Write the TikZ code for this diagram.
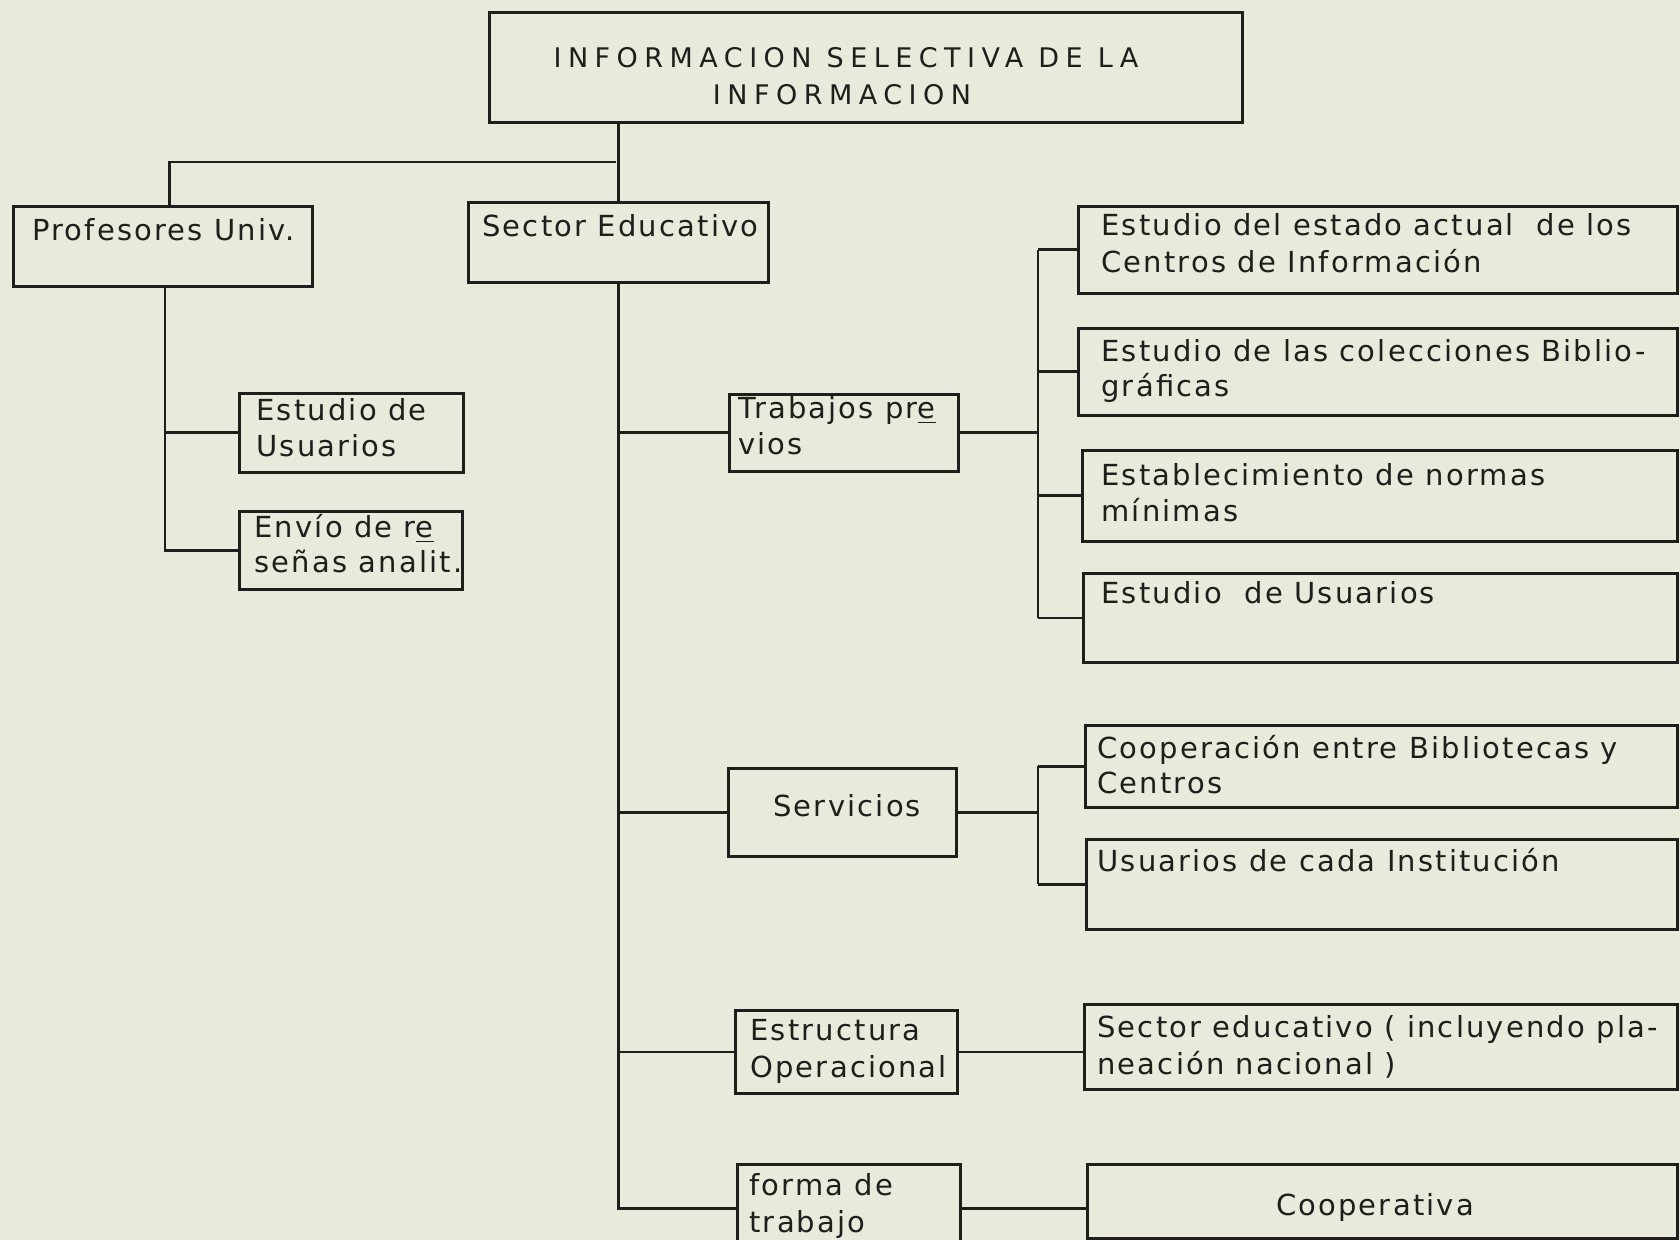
\documentclass[tikz,border=0pt]{standalone}
\usepackage{fontspec}
\setmainfont{DejaVu Sans}[LetterSpace=7.5]
\newfontfamily\capsfont{DejaVu Sans}[LetterSpace=24]
\definecolor{paper}{RGB}{233,234,219}
\definecolor{ink}{RGB}{30,30,28}
\newcommand\bx[5]{\node[box, minimum width={(#4-#2)*0.5pt}, minimum height={(#5-#3)*0.5pt}] (#1) at (#2,#3) {};}
\begin{document}
\begin{tikzpicture}[x=0.5pt,y=-0.5pt,
  box/.style={draw=ink, line width=1.3pt, inner sep=0pt, anchor=north west},
  txt/.style={text=ink, inner sep=0pt, anchor=base west, font=\fontsize{14.5pt}{18pt}\selectfont},
  captxt/.style={text=ink, inner sep=0pt, anchor=base, font=\capsfont\fontsize{13.5pt}{18pt}\selectfont},
  conn/.style={draw=ink, line width=1.3pt}]
\fill[paper] (0,0) rectangle (1680,1240);
\useasboundingbox (0,0) rectangle (1680,1240);
\clip (0,0) rectangle (1680,1240);
% boxes
\bx{top}{488}{11}{1241}{121}
\bx{prof}{12}{205}{311}{285}
\bx{sec}{467}{201}{767}{281}
\bx{est}{238}{392}{462}{471}
\bx{env}{238}{510}{461}{588}
\bx{trab}{728}{393}{957}{470}
\bx{serv}{727}{767}{955}{855}
\bx{estr}{734}{1009}{956}{1092}
\bx{forma}{736}{1163}{959}{1251}
\bx{ra}{1077}{205}{1676}{292}
\bx{rb}{1077}{327}{1676}{414}
\bx{rc}{1081}{449}{1676}{540}
\bx{rd}{1082}{572}{1676}{661}
\bx{coop}{1084}{724}{1676}{806}
\bx{usu}{1085}{838}{1676}{928}
\bx{sed}{1083}{1003}{1676}{1088}
\bx{cva}{1086}{1163}{1676}{1237}
% texts
\node[captxt] (t1) at (846,68) {INFORMACION SELECTIVA DE LA};
\node[captxt] (t2) at (842,105) {INFORMACION};
\node[txt] (tprof) at (32,241) {Profesores Univ.};
\node[txt] (tsec) at (482,237) {Sector Educativo};
\node[txt] (test1) at (256,421) {Estudio de};
\node[txt] (test2) at (256,457) {Usuarios};
\node[txt] (tenv1) at (254,538) {Envío de r\underline{e}};
\node[txt] (tenv2) at (254,573) {señas analit.};
\node[txt] (ttrab1) at (738,419) {Trabajos pr\underline{e}};
\node[txt] (ttrab2) at (738,455) {vios};
\node[txt] (tserv) at (773,816) {Servicios};
\node[txt] (testr1) at (750,1040) {Estructura};
\node[txt] (testr2) at (750,1077) {Operacional};
\node[txt] (tforma1) at (749,1195) {forma de};
\node[txt] (tforma2) at (749,1232) {trabajo};
\node[txt] (tra1) at (1101,236) {Estudio del estado actual\ \ de los};
\node[txt] (tra2) at (1101,273) {Centros de Información};
\node[txt] (trb1) at (1101,362) {Estudio de las colecciones Biblio-};
\node[txt] (trb2) at (1101,397) {gráficas};
\node[txt] (trc1) at (1101,486) {Establecimiento de normas};
\node[txt] (trc2) at (1101,522) {mínimas};
\node[txt] (trd) at (1101,603) {Estudio\ \ de Usuarios};
\node[txt] (tcoop1) at (1097,758) {Cooperación entre Bibliotecas y};
\node[txt] (tcoop2) at (1097,793) {Centros};
\node[txt] (tusu) at (1097,871) {Usuarios de cada Institución};
\node[txt] (tsed1) at (1097,1037) {Sector educativo ( incluyendo pla-};
\node[txt] (tsed2) at (1097,1074) {neación nacional )};
\node[txt, anchor=base] (tcva) at (1375,1215) {Cooperativa};
% connectors
\coordinate (jtop) at (616,162);
\coordinate (pspine) at (165,285);
\coordinate (tbr) at (1038,435);
\coordinate (sbr) at (1038,814);
\draw[conn] (sec.north |- top.south) -- (sec.north);
\draw[conn] (jtop) -| ([xshift=3.25pt]prof.north);
\draw[conn] (pspine) -- (pspine |- env.west) -- (env.west);
\draw[conn] (pspine |- est.west) -- (est.west);
\draw[conn] (sec.south) -- (sec.south |- forma.west) -- (forma.west);
\draw[conn] (sec.south |- trab.west) -- (trab.west);
\draw[conn] (sec.south |- serv.west) -- (serv.west);
\draw[conn] (sec.south |- estr.west) -- (estr.west);
\draw[conn] (trab.east) -- (trab.east -| tbr);
\draw[conn] (tbr |- ra.west) -- (tbr |- rd.west);
\draw[conn] (tbr |- ra.west) -- (ra.west);
\draw[conn] (tbr |- rb.west) -- (rb.west);
\draw[conn] (tbr |- rc.west) -- (rc.west);
\draw[conn] (tbr |- rd.west) -- (rd.west);
\draw[conn] (serv.east) -- (serv.east -| sbr);
\draw[conn] (sbr |- coop.west) -- (sbr |- usu.west);
\draw[conn] (sbr |- coop.west) -- (coop.west);
\draw[conn] (sbr |- usu.west) -- (usu.west);
\draw[conn] (estr.east) -- (estr.east -| sed.west);
\draw[conn] (forma.east) -- (forma.east -| cva.west);
\end{tikzpicture}
\end{document}
